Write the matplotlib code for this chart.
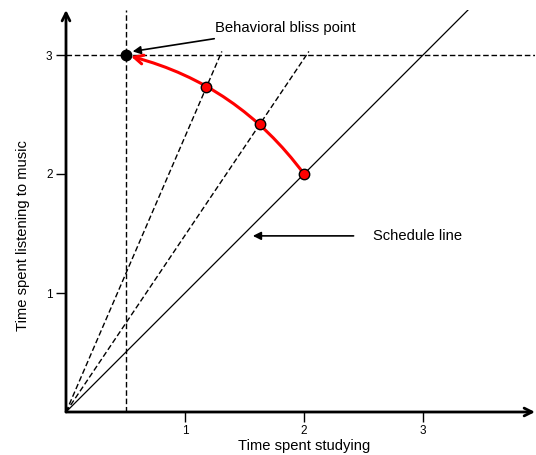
import matplotlib.pyplot as plt

plt.rcParams['font.family'] = ['Liberation Sans', 'DejaVu Sans']

# values
ticks = [1, 2, 3]
bliss_x, bliss_y = 0.5, 3.0
choice_x = [2.0, 1.63, 1.18]
choice_y = [2.0, 2.42, 2.73]
ray_top = 3.03
schedule_slope = 1.0

fig = plt.figure(figsize=(5.36, 4.55), dpi=100)
ax = fig.add_axes([66 / 536, 43 / 455, 469 / 536, 402 / 455])
ax.set_xlim(0, 469 / 119)
ax.set_ylim(0, 402 / 119)

for s in ax.spines.values():
    s.set_visible(False)

# axes with arrow heads
ax.annotate('', xy=(1, 0), xytext=(0, 0), xycoords='axes fraction',
            arrowprops=dict(arrowstyle='->', lw=2, color='black',
                            shrinkA=0, shrinkB=0, mutation_scale=14))
ax.annotate('', xy=(0, 1), xytext=(0, 0), xycoords='axes fraction',
            arrowprops=dict(arrowstyle='->', lw=2, color='black',
                            shrinkA=0, shrinkB=0, mutation_scale=14))

ax.set_xticks(ticks)
ax.set_yticks(ticks)
ax.tick_params(direction='out', length=7, width=1, labelsize=8.5, pad=2.7)

# bliss point guides
ax.axhline(bliss_y, color='black', lw=1, ls=(0, (4, 2)))
ax.axvline(bliss_x, color='black', lw=1, ls=(0, (4, 2)))

# schedule line and rays from the origin
ax.axline((0, 0), slope=schedule_slope, color='black', lw=0.9)
for cx, cy in zip(choice_x[1:], choice_y[1:]):
    ax.plot([0, cx * ray_top / cy], [0, ray_top], color='black', lw=1,
            ls=(0, (4, 2)))

# red path toward the bliss point
ax.annotate('', xy=(bliss_x, bliss_y), xytext=(choice_x[0], choice_y[0]),
            arrowprops=dict(arrowstyle='->', color='red', lw=2.2,
                            connectionstyle='arc3,rad=0.18',
                            shrinkA=0, shrinkB=4, mutation_scale=16),
            zorder=4)

ax.plot(choice_x, choice_y, 'o', ms=7.5, mfc='red', mec='black', mew=1,
        zorder=5)
ax.plot([bliss_x], [bliss_y], 'o', ms=7.5, color='black', zorder=5)

ax.annotate('Behavioral bliss point', xy=(0.56, 3.03), xytext=(1.25, 3.23),
            fontsize=10.7, va='center', ha='left',
            arrowprops=dict(arrowstyle='-|>', color='black', lw=1.2,
                            shrinkA=6, shrinkB=0, mutation_scale=12))
ax.annotate('Schedule line', xy=(1.57, 1.48), xytext=(2.58, 1.48),
            fontsize=10.6, va='center', ha='left',
            arrowprops=dict(arrowstyle='-|>', color='black', lw=1.2,
                            shrinkA=12, shrinkB=0, mutation_scale=12))

ax.set_xlabel('Time spent studying', fontsize=10.6)
ax.set_ylabel('Time spent listening to music', fontsize=10.6)
ax.xaxis.set_label_coords(0.507, -0.066)
ax.yaxis.set_label_coords(-0.077, 0.438)

fig.savefig('out.png', dpi=100)
